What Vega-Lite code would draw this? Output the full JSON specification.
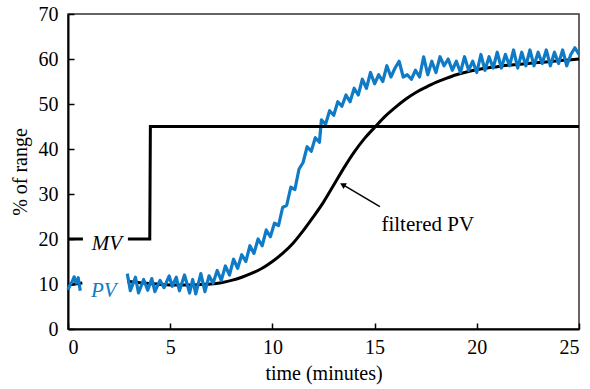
{
  "$schema": "https://vega.github.io/schema/vega-lite/v6.json",
  "width": 511,
  "height": 315,
  "autosize": {"type": "none"},
  "padding": {"left": 68, "top": 14, "right": 11, "bottom": 60},
  "background": "white",
  "config": {
    "view": {"stroke": "#333333", "strokeWidth": 1.5},
    "font": "Liberation Serif",
    "axis": {
      "grid": false,
      "domainColor": "black",
      "domainWidth": 2,
      "tickColor": "black",
      "tickWidth": 1.5,
      "tickSize": -6,
      "labelFont": "Liberation Serif",
      "labelFontSize": 20,
      "labelColor": "black",
      "titleFont": "Liberation Serif",
      "titleFontSize": 20,
      "titleFontWeight": "normal",
      "titleColor": "black"
    }
  },
  "datasets": {
    "pv": [
      {"g":1,"t":0,"v":8.7},{"g":1,"t":0.1,"v":9.8},{"g":1,"t":0.2,"v":10.5},{"g":1,"t":0.3,"v":11.6},{"g":1,"t":0.4,"v":10.2},{"g":1,"t":0.5,"v":11.4},{"g":1,"t":0.6,"v":8.5},
      {"g":2,"t":2.9,"v":12.3},{"g":2,"t":3.05,"v":8.5},{"g":2,"t":3.3,"v":11.5},{"g":2,"t":3.45,"v":8.0},{"g":2,"t":3.7,"v":11.0},{"g":2,"t":3.9,"v":8.6},
      {"g":2,"t":4.1,"v":11.2},{"g":2,"t":4.25,"v":8.3},{"g":2,"t":4.5,"v":10.8},{"g":2,"t":4.7,"v":9.2},{"g":2,"t":4.95,"v":11.8},
      {"g":2,"t":5.1,"v":9.5},{"g":2,"t":5.3,"v":11.5},{"g":2,"t":5.45,"v":8.5},{"g":2,"t":5.7,"v":12.0},{"g":2,"t":5.95,"v":8.0},
      {"g":2,"t":6.1,"v":11.0},{"g":2,"t":6.25,"v":7.8},{"g":2,"t":6.5,"v":12.3},{"g":2,"t":6.7,"v":8.3},{"g":2,"t":6.9,"v":11.8},
      {"g":2,"t":7.1,"v":10.2},{"g":2,"t":7.3,"v":13.0},{"g":2,"t":7.5,"v":10.8},{"g":2,"t":7.7,"v":14.0},{"g":2,"t":7.9,"v":12.0},
      {"g":2,"t":8.1,"v":15.5},{"g":2,"t":8.3,"v":13.5},{"g":2,"t":8.5,"v":16.5},{"g":2,"t":8.7,"v":15.0},{"g":2,"t":8.9,"v":18.5},
      {"g":2,"t":9.1,"v":16.8},{"g":2,"t":9.3,"v":20.0},{"g":2,"t":9.5,"v":18.5},{"g":2,"t":9.7,"v":22.0},{"g":2,"t":9.9,"v":20.5},
      {"g":2,"t":10.1,"v":23.5},{"g":2,"t":10.3,"v":23.0},{"g":2,"t":10.5,"v":27.0},{"g":2,"t":10.7,"v":27.5},{"g":2,"t":10.9,"v":31.5},
      {"g":2,"t":11.1,"v":31.0},{"g":2,"t":11.3,"v":35.5},{"g":2,"t":11.5,"v":37.0},{"g":2,"t":11.7,"v":40.5},{"g":2,"t":11.9,"v":39.5},
      {"g":2,"t":12.1,"v":42.5},{"g":2,"t":12.3,"v":41.5},{"g":2,"t":12.4,"v":46.5},{"g":2,"t":12.6,"v":45.5},{"g":2,"t":12.8,"v":48.5},
      {"g":2,"t":13.0,"v":47.5},{"g":2,"t":13.2,"v":50.5},{"g":2,"t":13.4,"v":49.5},{"g":2,"t":13.6,"v":52.0},{"g":2,"t":13.8,"v":50.5},
      {"g":2,"t":14.0,"v":53.5},{"g":2,"t":14.2,"v":52.0},{"g":2,"t":14.4,"v":55.5},{"g":2,"t":14.6,"v":53.5},{"g":2,"t":14.8,"v":57.0},
      {"g":2,"t":15.0,"v":54.5},{"g":2,"t":15.2,"v":56.5},{"g":2,"t":15.4,"v":55.0},{"g":2,"t":15.6,"v":58.5},{"g":2,"t":15.8,"v":56.0},
      {"g":2,"t":16.0,"v":58.0},{"g":2,"t":16.2,"v":59.5},{"g":2,"t":16.4,"v":56.0},{"g":2,"t":16.6,"v":56.5},{"g":2,"t":16.8,"v":55.5},
      {"g":2,"t":17.0,"v":57.5},{"g":2,"t":17.2,"v":56.0},{"g":2,"t":17.4,"v":60.5},{"g":2,"t":17.6,"v":56.5},{"g":2,"t":17.8,"v":59.5},
      {"g":2,"t":18.0,"v":57.0},{"g":2,"t":18.2,"v":60.5},{"g":2,"t":18.4,"v":58.5},{"g":2,"t":18.6,"v":60.0},{"g":2,"t":18.8,"v":57.5},
      {"g":2,"t":19.0,"v":59.5},{"g":2,"t":19.2,"v":57.0},{"g":2,"t":19.4,"v":60.5},{"g":2,"t":19.6,"v":57.5},{"g":2,"t":19.8,"v":59.5},
      {"g":2,"t":20.0,"v":57.0},{"g":2,"t":20.2,"v":61.0},{"g":2,"t":20.4,"v":57.5},{"g":2,"t":20.6,"v":60.5},{"g":2,"t":20.8,"v":58.0},
      {"g":2,"t":21.0,"v":61.5},{"g":2,"t":21.2,"v":58.0},{"g":2,"t":21.4,"v":61.0},{"g":2,"t":21.6,"v":58.5},{"g":2,"t":21.8,"v":62.0},
      {"g":2,"t":22.0,"v":58.0},{"g":2,"t":22.2,"v":61.5},{"g":2,"t":22.4,"v":58.5},{"g":2,"t":22.6,"v":62.0},{"g":2,"t":22.8,"v":58.5},
      {"g":2,"t":23.0,"v":61.5},{"g":2,"t":23.2,"v":59.0},{"g":2,"t":23.4,"v":62.0},{"g":2,"t":23.6,"v":58.5},{"g":2,"t":23.8,"v":61.5},
      {"g":2,"t":24.0,"v":59.0},{"g":2,"t":24.2,"v":62.0},{"g":2,"t":24.4,"v":58.5},{"g":2,"t":24.6,"v":61.0},{"g":2,"t":24.8,"v":62.5},{"g":2,"t":25.0,"v":61.0}
    ],
    "filt": [
      {"g":1,"t":0,"v":9.8},{"g":1,"t":0.35,"v":10.0},{"g":1,"t":0.7,"v":10.2},
      {"g":2,"t":2.9,"v":10.6},{"g":2,"t":3.5,"v":10.3},{"g":2,"t":4,"v":10.1},{"g":2,"t":4.5,"v":9.9},{"g":2,"t":5,"v":9.8},{"g":2,"t":5.5,"v":9.8},{"g":2,"t":6,"v":9.8},{"g":2,"t":6.5,"v":9.9},{"g":2,"t":7,"v":10.0},{"g":2,"t":7.5,"v":10.3},
      {"g":2,"t":8,"v":10.8},{"g":2,"t":8.5,"v":11.5},{"g":2,"t":9,"v":12.4},{"g":2,"t":9.5,"v":13.5},{"g":2,"t":10,"v":15.0},{"g":2,"t":10.5,"v":16.8},{"g":2,"t":11,"v":19.0},{"g":2,"t":11.5,"v":21.8},{"g":2,"t":12,"v":24.9},{"g":2,"t":12.5,"v":28.2},
      {"g":2,"t":13,"v":32.0},{"g":2,"t":13.5,"v":35.8},{"g":2,"t":14,"v":39.3},{"g":2,"t":14.5,"v":42.3},{"g":2,"t":15,"v":44.8},{"g":2,"t":15.5,"v":47.2},{"g":2,"t":16,"v":49.2},{"g":2,"t":16.5,"v":51.0},{"g":2,"t":17,"v":52.5},{"g":2,"t":17.5,"v":53.7},
      {"g":2,"t":18,"v":54.8},{"g":2,"t":18.5,"v":55.7},{"g":2,"t":19,"v":56.5},{"g":2,"t":19.5,"v":57.1},{"g":2,"t":20,"v":57.6},{"g":2,"t":20.5,"v":58.0},{"g":2,"t":21,"v":58.3},{"g":2,"t":21.5,"v":58.6},{"g":2,"t":22,"v":58.8},{"g":2,"t":22.5,"v":59.0},
      {"g":2,"t":23,"v":59.2},{"g":2,"t":23.5,"v":59.4},{"g":2,"t":24,"v":59.6},{"g":2,"t":24.5,"v":59.8},{"g":2,"t":25,"v":60.0}
    ],
    "mv": [
      {"g":1,"t":0,"v":20},{"g":1,"t":0.73,"v":20},
      {"g":2,"t":2.93,"v":20},{"g":2,"t":4.0,"v":20},{"g":2,"t":4.03,"v":45},{"g":2,"t":25,"v":45}
    ],
    "notes": [
      {"label":"MV","t":1.9,"v":17.6},
      {"label":"PV","t":1.75,"v":7.2},
      {"label":"filtered PV","t":17.6,"v":21.8}
    ],
    "arrow": [
      {"t":15.26,"v":27.2,"t2":13.44,"v2":32.07}
    ]
  },
  "encoding": {
    "x": {"field": "t", "type": "quantitative",
      "scale": {"domain": [0, 25], "nice": false, "zero": false},
      "axis": {"values": [0,5,10,15,20,25], "title": "time (minutes)", "labelPadding": 14, "titlePadding": 6}},
    "y": {"field": "v", "type": "quantitative",
      "scale": {"domain": [0, 70], "nice": false},
      "axis": {"values": [0,10,20,30,40,50,60,70], "title": "% of range", "labelPadding": 16, "titlePadding": 8}}
  },
  "layer": [
    {
      "data": {"name": "filt"},
      "mark": {"type": "line", "color": "black", "strokeWidth": 3, "interpolate": "monotone"},
      "encoding": {"detail": {"field": "g"}}
    },
    {
      "data": {"name": "pv"},
      "mark": {"type": "line", "color": "#0F7BC6", "strokeWidth": 3.2, "strokeJoin": "round"},
      "encoding": {"detail": {"field": "g"}}
    },
    {
      "data": {"name": "mv"},
      "mark": {"type": "line", "color": "black", "strokeWidth": 3},
      "encoding": {"detail": {"field": "g"}}
    },
    {
      "data": {"name": "arrow"},
      "mark": {"type": "rule", "color": "black", "strokeWidth": 1.5},
      "encoding": {"x2": {"field": "t2"}, "y2": {"field": "v2"}}
    },
    {
      "data": {"name": "arrow"},
      "mark": {"type": "point", "shape": "triangle-up", "filled": true, "color": "black", "size": 45, "angle": 300, "opacity": 1},
      "encoding": {"x": {"field": "t2", "type": "quantitative"}, "y": {"field": "v2", "type": "quantitative"}}
    },
    {
      "data": {"name": "notes"},
      "transform": [{"filter": "datum.label === 'MV'"}],
      "mark": {"type": "text", "fontSize": 21, "fontStyle": "italic", "font": "Liberation Serif", "color": "black", "align": "center", "baseline": "alphabetic"},
      "encoding": {"text": {"field": "label"}}
    },
    {
      "data": {"name": "notes"},
      "transform": [{"filter": "datum.label === 'PV'"}],
      "mark": {"type": "text", "fontSize": 21, "fontStyle": "italic", "font": "Liberation Serif", "color": "#0F7BC6", "align": "center", "baseline": "alphabetic"},
      "encoding": {"text": {"field": "label"}}
    },
    {
      "data": {"name": "notes"},
      "transform": [{"filter": "datum.label === 'filtered PV'"}],
      "mark": {"type": "text", "fontSize": 21, "font": "Liberation Serif", "color": "black", "align": "center", "baseline": "alphabetic"},
      "encoding": {"text": {"field": "label"}}
    }
  ]
}
